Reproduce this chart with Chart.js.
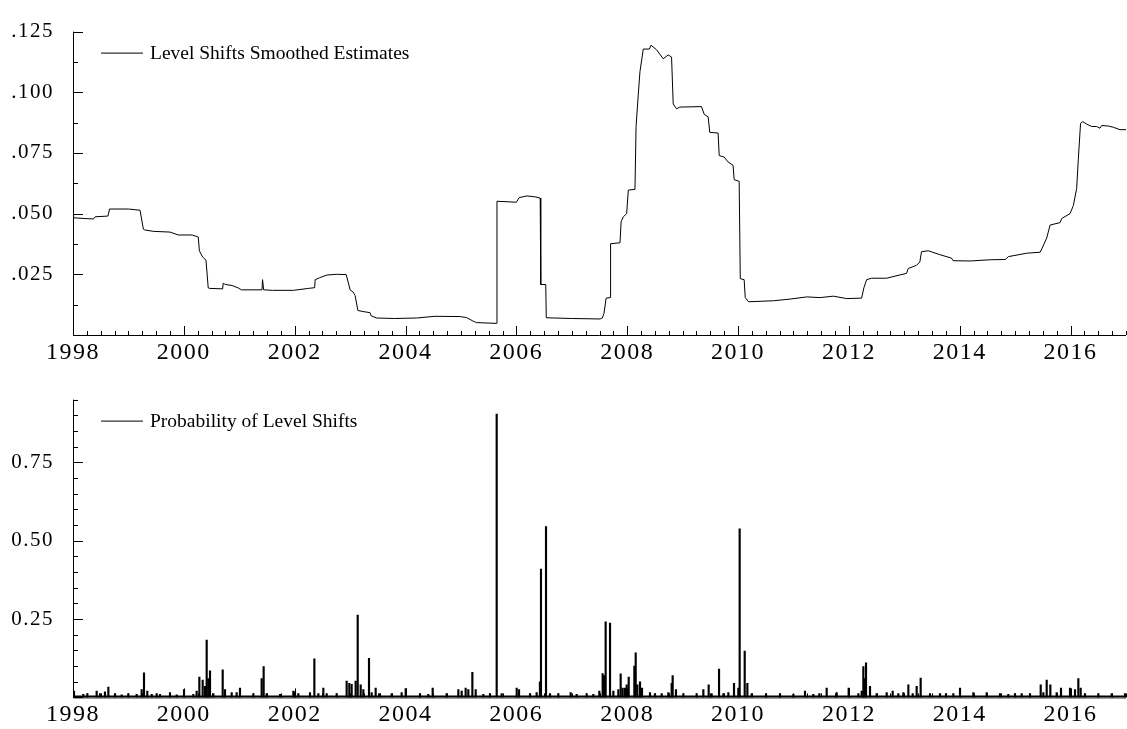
<!DOCTYPE html>
<html>
<head>
<meta charset="utf-8">
<script src="https://cdn.jsdelivr.net/npm/chart.js@4.4.1/dist/chart.umd.min.js"></script>
<style>
  html, body { margin: 0; padding: 0; background: #fff; }
  #wrap { position: relative; width: 1127px; height: 729px; }
  .box { position: absolute; left: 0; width: 1127px; }
  #top { top: 0; height: 368px; }
  #bottom { top: 368px; height: 361px; }
</style>
</head>
<body>
<div id="wrap">
  <div class="box" id="top"><canvas id="levelChart"></canvas></div>
  <div class="box" id="bottom"><canvas id="probChart"></canvas></div>
</div>
<script>
// x axis (years)
const xTickYears = [1998, 2000, 2002, 2004, 2006, 2008, 2010, 2012, 2014, 2016];

// top panel: smoothed level shifts
const levelTickValues = [0.025, 0.05, 0.075, 0.1, 0.125];
const levelTickLabels = ['.025', '.050', '.075', '.100', '.125'];
const levelDates = [
  1998.00, 1998.01, 1998.20, 1998.37, 1998.40, 1998.63, 1998.66, 1999.00, 1999.21, 1999.27,
  1999.29, 1999.45, 1999.75, 1999.90, 2000.15, 2000.26, 2000.28, 2000.34, 2000.40, 2000.44,
  2000.47, 2000.70, 2000.71, 2000.75, 2000.87, 2000.98, 2001.04, 2001.41, 2001.42, 2001.44,
  2001.60, 2001.98, 2002.25, 2002.36, 2002.37, 2002.45, 2002.58, 2002.75, 2002.93, 2003.00,
  2003.05, 2003.09, 2003.14, 2003.25, 2003.36, 2003.38, 2003.48, 2003.80, 2004.20, 2004.53,
  2004.98, 2005.10, 2005.22, 2005.28, 2005.64, 2005.65, 2006.00, 2006.05, 2006.19, 2006.34,
  2006.43, 2006.44, 2006.53, 2006.54, 2007.00, 2007.51, 2007.55, 2007.58, 2007.62, 2007.69,
  2007.70, 2007.87, 2007.89, 2007.93, 2007.99, 2008.02, 2008.14, 2008.16, 2008.20, 2008.23,
  2008.29, 2008.40, 2008.43, 2008.53, 2008.65, 2008.74, 2008.80, 2008.83, 2008.89, 2008.95,
  2009.34, 2009.39, 2009.46, 2009.49, 2009.64, 2009.66, 2009.75, 2009.82, 2009.91, 2009.93,
  2010.02, 2010.04, 2010.11, 2010.13, 2010.19, 2010.64, 2010.94, 2011.24, 2011.48, 2011.72,
  2011.96, 2012.23, 2012.27, 2012.32, 2012.41, 2012.68, 2013.04, 2013.07, 2013.22, 2013.28,
  2013.31, 2013.43, 2013.64, 2013.85, 2013.88, 2014.19, 2014.55, 2014.82, 2014.88, 2015.21,
  2015.45, 2015.48, 2015.57, 2015.63, 2015.81, 2015.84, 2015.99, 2016.05, 2016.11, 2016.14,
  2016.18, 2016.22, 2016.29, 2016.38, 2016.47, 2016.53, 2016.56, 2016.68, 2016.77, 2016.89,
  2017.00
];
const levelValues = [
  0.0495, 0.0483, 0.0480, 0.0478, 0.0487, 0.0490, 0.0519, 0.0519, 0.0514, 0.0436,
  0.0433, 0.0427, 0.0424, 0.0412, 0.0412, 0.0404, 0.0347, 0.0321, 0.0308, 0.0194,
  0.0192, 0.0190, 0.0213, 0.0208, 0.0204, 0.0194, 0.0186, 0.0186, 0.0228, 0.0186,
  0.0184, 0.0184, 0.0192, 0.0195, 0.0228, 0.0236, 0.0247, 0.0250, 0.0249, 0.0186,
  0.0178, 0.0163, 0.0101, 0.0096, 0.0092, 0.0079, 0.0070, 0.0068, 0.0070, 0.0077,
  0.0076, 0.0072, 0.0057, 0.0051, 0.0048, 0.0551, 0.0547, 0.0566, 0.0573, 0.0569,
  0.0564, 0.0208, 0.0208, 0.0071, 0.0068, 0.0066, 0.0070, 0.0088, 0.0152, 0.0154,
  0.0376, 0.0380, 0.0467, 0.0487, 0.0500, 0.0597, 0.0600, 0.0859, 0.0992, 0.1085,
  0.1178, 0.1178, 0.1194, 0.1175, 0.1138, 0.1154, 0.1145, 0.0952, 0.0932, 0.0939,
  0.0941, 0.0909, 0.0899, 0.0835, 0.0832, 0.0739, 0.0733, 0.0713, 0.0699, 0.0640,
  0.0633, 0.0232, 0.0228, 0.0154, 0.0137, 0.0141, 0.0148, 0.0157, 0.0154, 0.0160,
  0.0150, 0.0152, 0.0194, 0.0228, 0.0234, 0.0234, 0.0254, 0.0274, 0.0287, 0.0301,
  0.0343, 0.0347, 0.0331, 0.0317, 0.0306, 0.0305, 0.0310, 0.0311, 0.0323, 0.0337,
  0.0341, 0.0354, 0.0400, 0.0453, 0.0463, 0.0480, 0.0500, 0.0533, 0.0604, 0.0726,
  0.0872, 0.0879, 0.0869, 0.0859, 0.0859, 0.0852, 0.0863, 0.0861, 0.0856, 0.0846,
  0.0846
];

// bottom panel: probability of level shifts
const probTickValues = [0.25, 0.5, 0.75];
const probTickLabels = ['0.25', '0.50', '0.75'];
const probDates = [
  1998.018, 1998.186, 1998.259, 1998.427, 1998.487, 1998.577, 1998.638, 1998.758, 1998.878, 1998.998,
  1999.149, 1999.239, 1999.281, 1999.341, 1999.420, 1999.510, 1999.570, 1999.750, 1999.871, 2000.003,
  2000.171, 2000.231, 2000.280, 2000.340, 2000.382, 2000.412, 2000.442, 2000.472, 2000.532, 2000.701,
  2000.743, 2000.863, 2000.953, 2001.013, 2001.254, 2001.404, 2001.440, 2001.495, 2001.735, 2001.976,
  2002.006, 2002.066, 2002.276, 2002.355, 2002.427, 2002.517, 2002.577, 2002.758, 2002.938, 2002.986,
  2003.028, 2003.100, 2003.137, 2003.191, 2003.239, 2003.341, 2003.389, 2003.461, 2003.539, 2003.750,
  2003.930, 2004.003, 2004.261, 2004.412, 2004.490, 2004.742, 2004.953, 2005.013, 2005.085, 2005.133,
  2005.206, 2005.266, 2005.404, 2005.524, 2005.645, 2005.735, 2006.006, 2006.048, 2006.246, 2006.366,
  2006.425, 2006.444, 2006.535, 2006.607, 2006.757, 2006.980, 2007.088, 2007.269, 2007.389, 2007.497,
  2007.557, 2007.581, 2007.611, 2007.690, 2007.750, 2007.840, 2007.882, 2007.918, 2007.960, 2007.990,
  2008.027, 2008.129, 2008.153, 2008.183, 2008.231, 2008.267, 2008.411, 2008.501, 2008.622, 2008.742,
  2008.802, 2008.820, 2008.880, 2009.013, 2009.253, 2009.374, 2009.470, 2009.524, 2009.657, 2009.735,
  2009.825, 2009.927, 2010.005, 2010.029, 2010.120, 2010.168, 2010.246, 2010.505, 2010.757, 2010.998,
  2011.208, 2011.358, 2011.467, 2011.599, 2011.780, 2011.996, 2012.171, 2012.231, 2012.261, 2012.285,
  2012.309, 2012.381, 2012.501, 2012.682, 2012.790, 2012.892, 2012.983, 2013.073, 2013.151, 2013.223,
  2013.295, 2013.464, 2013.644, 2013.752, 2013.885, 2014.005, 2014.246, 2014.486, 2014.727, 2014.877,
  2014.997, 2015.118, 2015.268, 2015.461, 2015.509, 2015.569, 2015.635, 2015.749, 2015.827, 2015.990,
  2016.080, 2016.140, 2016.182, 2016.260, 2016.501, 2016.742, 2016.982
];
const probValues = [
  0.020, 0.010, 0.012, 0.020, 0.012, 0.018, 0.033, 0.012, 0.008, 0.012,
  0.010, 0.025, 0.078, 0.020, 0.010, 0.012, 0.010, 0.015, 0.008, 0.025,
  0.010, 0.020, 0.065, 0.055, 0.035, 0.183, 0.060, 0.085, 0.012, 0.088,
  0.025, 0.015, 0.015, 0.030, 0.012, 0.060, 0.098, 0.012, 0.010, 0.020,
  0.018, 0.012, 0.015, 0.123, 0.012, 0.030, 0.012, 0.012, 0.052, 0.045,
  0.042, 0.052, 0.263, 0.040, 0.025, 0.125, 0.015, 0.030, 0.012, 0.012,
  0.015, 0.028, 0.012, 0.010, 0.030, 0.012, 0.025, 0.020, 0.030, 0.025,
  0.080, 0.025, 0.010, 0.012, 0.904, 0.012, 0.030, 0.025, 0.012, 0.015,
  0.050, 0.409, 0.545, 0.012, 0.012, 0.015, 0.010, 0.012, 0.010, 0.020,
  0.076, 0.070, 0.241, 0.237, 0.020, 0.025, 0.075, 0.030, 0.030, 0.040,
  0.065, 0.100, 0.142, 0.040, 0.050, 0.030, 0.015, 0.012, 0.012, 0.015,
  0.045, 0.070, 0.025, 0.012, 0.012, 0.025, 0.040, 0.012, 0.090, 0.012,
  0.015, 0.045, 0.030, 0.538, 0.148, 0.045, 0.012, 0.012, 0.012, 0.010,
  0.020, 0.010, 0.012, 0.030, 0.015, 0.030, 0.012, 0.020, 0.098, 0.060,
  0.110, 0.035, 0.012, 0.015, 0.020, 0.012, 0.015, 0.040, 0.012, 0.035,
  0.062, 0.012, 0.012, 0.012, 0.012, 0.030, 0.015, 0.015, 0.012, 0.010,
  0.012, 0.012, 0.012, 0.040, 0.015, 0.055, 0.040, 0.015, 0.030, 0.030,
  0.025, 0.060, 0.030, 0.012, 0.012, 0.012, 0.012
];
// small background level of the probabilities
const probFloorDates = [1998, 2017];
const probFloorValues = [0.004, 0.004];

const serif = 'Liberation Serif, Times New Roman, serif';

// axes with inward ticks plus the little legend in the top-left corner
const framePlugin = {
  id: 'frame',
  beforeDraw(chart) {
    chart.ctx.letterSpacing = '1.5px';
  },
  afterDatasetsDraw(chart, args, opts) {
    const { ctx, chartArea: a, scales: { x, y } } = chart;
    ctx.save();
    ctx.letterSpacing = '0px';
    ctx.strokeStyle = '#000';
    ctx.lineWidth = 1;
    ctx.beginPath();
    ctx.moveTo(a.left + 0.5, a.top);
    ctx.lineTo(a.left + 0.5, a.bottom + 0.5);
    ctx.lineTo(a.right, a.bottom + 0.5);

    const nx = Math.round((x.max - x.min) * 4);
    for (let i = 0; i <= nx; i++) {
      const q = x.min + i / 4;
      const px = Math.round(x.getPixelForValue(q)) + 0.5;
      const major = xTickYears.includes(q);
      ctx.moveTo(px, a.bottom);
      ctx.lineTo(px, a.bottom - (major ? 9 : 4));
    }
    const ny = Math.round((y.max - y.min) / opts.minorStep);
    for (let i = 0; i <= ny; i++) {
      const v = y.min + i * opts.minorStep;
      const py = Math.round(y.getPixelForValue(v)) + 0.5;
      const major = opts.majorValues.some(m => Math.abs(m - v) < 1e-9);
      ctx.moveTo(a.left, py);
      ctx.lineTo(a.left + (major ? 10 : 5), py);
    }
    ctx.stroke();

    // legend
    const ly = a.top + 21;
    ctx.beginPath();
    ctx.moveTo(a.left + 28, ly + 0.5);
    ctx.lineTo(a.left + 70, ly + 0.5);
    ctx.stroke();
    ctx.fillStyle = '#000';
    ctx.font = '19.5px ' + serif;
    ctx.textBaseline = 'alphabetic';
    ctx.fillText(opts.title, a.left + 77, a.top + 27);
    ctx.restore();
  }
};

function xAxis(height) {
  return {
    type: 'linear',
    min: 1998,
    max: 2017,
    offset: false,
    afterBuildTicks: s => { s.ticks = xTickYears.map(v => ({ value: v })); },
    afterFit: s => { s.height = height; },
    grid: { display: false, drawTicks: false, offset: false },
    border: { display: false },
    ticks: {
      padding: 3,
      maxRotation: 0,
      autoSkip: false,
      color: '#000',
      font: { family: serif, size: 24 },
      callback: v => String(v)
    }
  };
}

function yAxis(max, values, labels) {
  return {
    type: 'linear',
    min: 0,
    max: max,
    afterBuildTicks: s => { s.ticks = values.map(v => ({ value: v })); },
    afterFit: s => { s.width = 73; },
    grid: { display: false, drawTicks: false },
    border: { display: false },
    ticks: {
      padding: 19,
      color: '#000',
      font: { family: serif, size: 21 },
      callback: (v, i) => labels[i]
    }
  };
}

new Chart(document.getElementById('levelChart'), {
  type: 'line',
  data: {
    datasets: [{
      label: 'Level Shifts Smoothed Estimates',
      data: levelDates.map((t, i) => ({ x: t, y: levelValues[i] })),
      borderColor: '#000',
      borderWidth: 1,
      pointRadius: 0,
      tension: 0
    }]
  },
  options: {
    responsive: true,
    maintainAspectRatio: false,
    animation: false,
    events: [],
    layout: { padding: { top: 22, right: 1, left: 0, bottom: 0 } },
    scales: { x: xAxis(33), y: yAxis(0.125, levelTickValues, levelTickLabels) },
    plugins: {
      legend: { display: false },
      tooltip: { enabled: false },
      frame: { title: 'Level Shifts Smoothed Estimates', minorStep: 0.0125, majorValues: levelTickValues.concat([0]) }
    }
  },
  plugins: [framePlugin]
});

new Chart(document.getElementById('probChart'), {
  type: 'bar',
  data: {
    datasets: [{
      type: 'bar',
      label: 'Probability of Level Shifts',
      data: probDates.map((t, i) => ({ x: t, y: probValues[i] })),
      backgroundColor: '#000',
      borderWidth: 0,
      barThickness: 1.5
    }, {
      type: 'line',
      data: probFloorDates.map((t, i) => ({ x: t, y: probFloorValues[i] })),
      borderColor: '#000',
      borderWidth: 1.5,
      pointRadius: 0
    }]
  },
  options: {
    responsive: true,
    maintainAspectRatio: false,
    animation: false,
    events: [],
    layout: { padding: { top: 17, right: 1, left: 0, bottom: 0 } },
    scales: { x: xAxis(29), y: yAxis(0.95, probTickValues, probTickLabels) },
    plugins: {
      legend: { display: false },
      tooltip: { enabled: false },
      frame: { title: 'Probability of Level Shifts', minorStep: 0.05, majorValues: probTickValues.concat([0]) }
    }
  },
  plugins: [framePlugin]
});
</script>
</body>
</html>
